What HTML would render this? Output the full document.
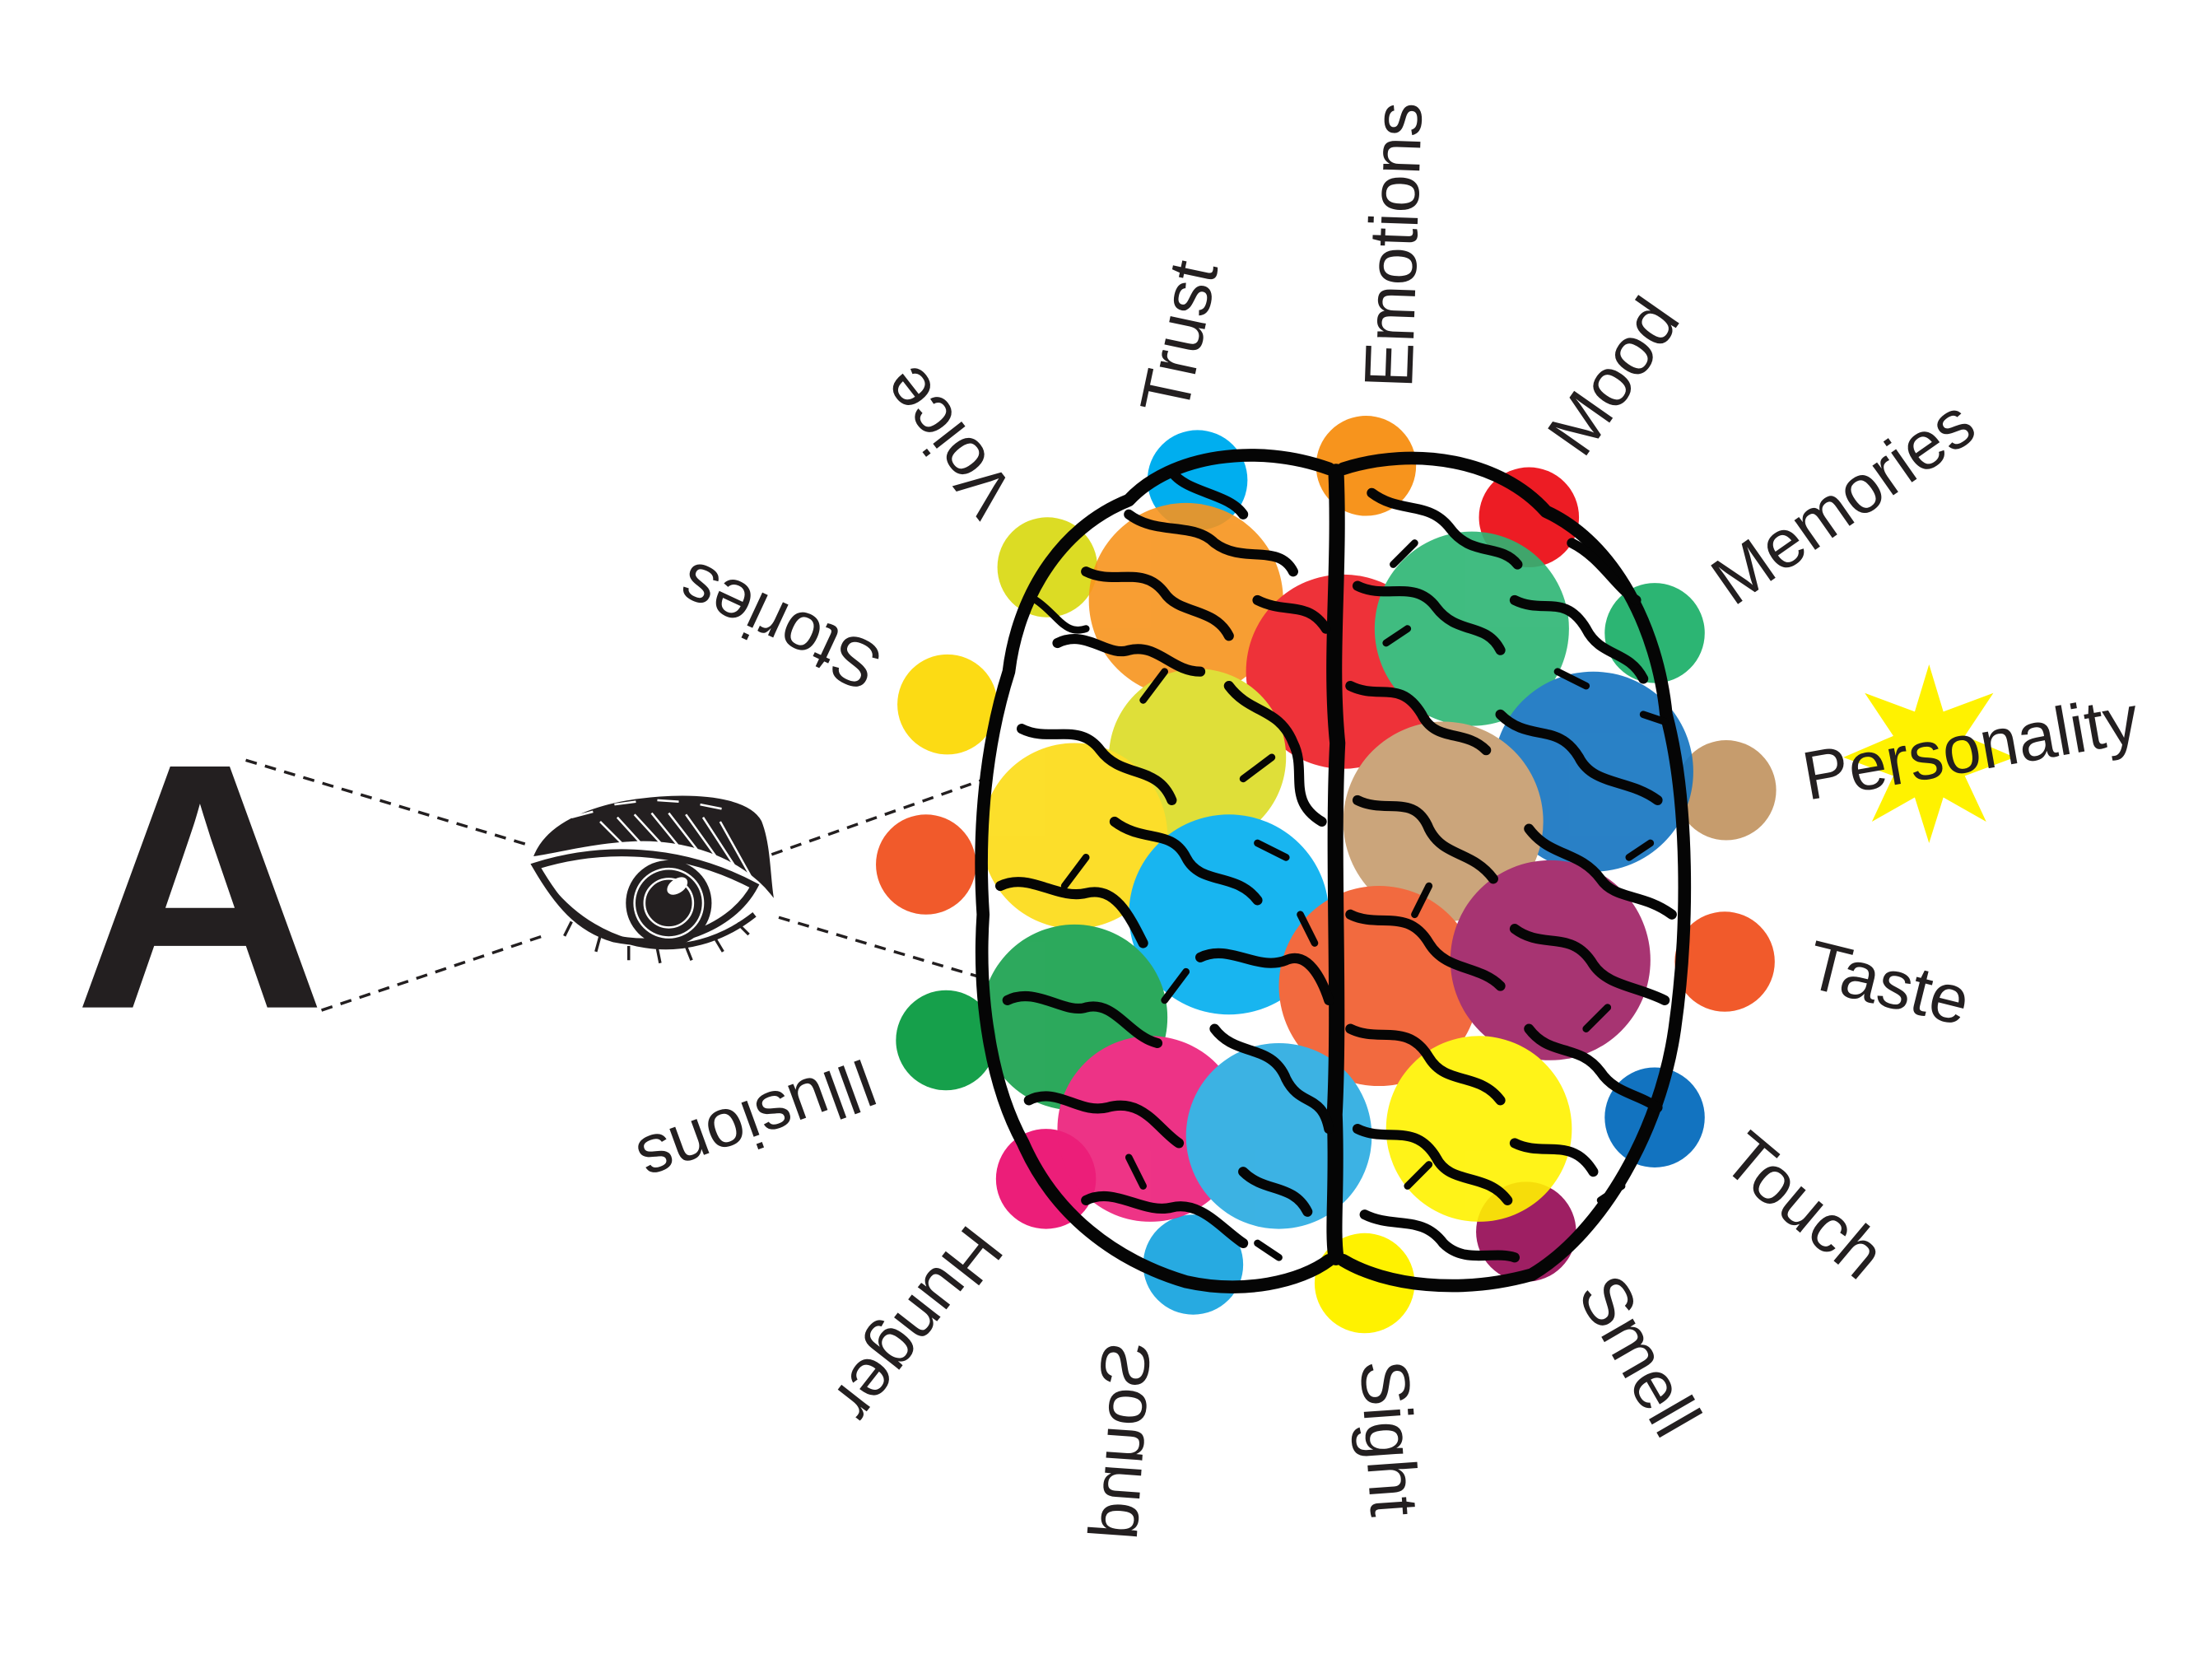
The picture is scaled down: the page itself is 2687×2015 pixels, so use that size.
<!DOCTYPE html>
<html><head><meta charset="utf-8"><style>
html,body{margin:0;padding:0;background:#fff;}
svg{display:block}
text{font-family:"Liberation Sans",sans-serif;fill:#231f20}
</style></head><body>
<svg width="2687" height="2015" viewBox="0 0 1548 1161" preserveAspectRatio="none" xmlns="http://www.w3.org/2000/svg">
<rect width="1548" height="1161" fill="#fff"/>
<!-- A and eye -->
<text x="140" y="705" font-size="245" font-weight="bold" text-anchor="middle" style="fill:#231f20">A</text>
<g stroke="#231f20" stroke-width="2" stroke-dasharray="8,6" fill="none">
<line x1="172" y1="532" x2="372" y2="592"/>
<line x1="225" y1="707" x2="380" y2="655"/>
<line x1="540" y1="598" x2="690" y2="545"/>
<line x1="545" y1="642" x2="690" y2="685"/>
</g>
<g fill="none" stroke="#231f20">
<path d="M375,598 C385,575 420,560 470,558 C500,557 525,562 532,575 C538,590 538,610 540,625 C520,600 480,585 440,588 C410,590 390,596 375,598Z" fill="#231f20" stroke-width="2"/>
<g stroke="#fff" stroke-width="1.5">
<path d="M420,575 L440,595 M432,572 L452,594 M444,570 L466,594 M456,569 L478,596 M468,569 L492,600 M480,570 L505,605 M492,572 L518,612 M504,575 L528,618"/>
<path d="M400,572 L415,568 M430,563 L445,561 M460,560 L475,561 M490,563 L505,566"/>
</g>
<path d="M375,606 C420,592 475,592 528,620 C512,650 470,665 430,657 C405,650 390,632 375,606Z" fill="#fff" stroke-width="5"/>
<circle cx="468" cy="632" r="30" fill="#231f20" stroke="none"/>
<circle cx="468" cy="632" r="24" stroke="#fff" stroke-width="1.5"/>
<circle cx="468" cy="632" r="17" stroke="#fff" stroke-width="1.5"/>
<ellipse cx="474" cy="620" rx="8" ry="5" fill="#fff" stroke="none" transform="rotate(-35 474 620)"/>
<path d="M385,622 C420,665 480,678 528,640" stroke-width="4"/>
<path d="M400,645 L395,655 M420,655 L417,666 M440,662 L440,672 M460,664 L462,674 M480,662 L484,672 M500,656 L506,666 M516,646 L524,654" stroke-width="2"/>
</g>
<!-- outer circles -->
<g>
<circle cx="838" cy="336" r="35" fill="#00aeef"/>
<circle cx="956" cy="326" r="35" fill="#f7941d"/>
<circle cx="1070" cy="362" r="35" fill="#ed1c24"/>
<circle cx="1158" cy="443" r="35" fill="#2cb573"/>
<circle cx="1208" cy="553" r="35" fill="#c69c6d"/>
<circle cx="1207" cy="673" r="35" fill="#f15a2b"/>
<circle cx="1158" cy="782" r="35" fill="#1273c0"/>
<circle cx="1068" cy="862" r="35" fill="#9e1f63"/>
<circle cx="955" cy="898" r="35" fill="#fff200"/>
<circle cx="835" cy="885" r="35" fill="#27aae1"/>
<circle cx="732" cy="825" r="35" fill="#ec1e79"/>
<circle cx="662" cy="728" r="35" fill="#16a04b"/>
<circle cx="648" cy="605" r="35" fill="#f15a2b"/>
<circle cx="663" cy="493" r="35" fill="#fcdb14"/>
<circle cx="733" cy="397" r="35" fill="#dcdc24"/>
</g>
<!-- inner circles -->
<g opacity="0.9">
<circle cx="830" cy="420" r="68" fill="#f7941d"/>
<circle cx="940" cy="470" r="68" fill="#ed1c24"/>
<circle cx="1030" cy="440" r="68" fill="#2cb573"/>
<circle cx="838" cy="530" r="62" fill="#dcdc24"/>
<circle cx="752" cy="585" r="65" fill="#fcdb14"/>
<circle cx="1115" cy="540" r="70" fill="#1273c0"/>
<circle cx="1010" cy="575" r="70" fill="#c69c6d"/>
<circle cx="860" cy="640" r="70" fill="#00aeef"/>
<circle cx="965" cy="690" r="70" fill="#f15a2b"/>
<circle cx="1085" cy="672" r="70" fill="#9e1f63"/>
<circle cx="752" cy="712" r="65" fill="#16a04b"/>
<circle cx="805" cy="790" r="65" fill="#ec1e79"/>
<circle cx="895" cy="795" r="65" fill="#27aae1"/>
<circle cx="1035" cy="790" r="65" fill="#fff200"/>
</g>
<!-- brain lines -->
<g fill="none" stroke="#050505" stroke-width="9" stroke-linecap="round" stroke-linejoin="round">
<path d="M930,328 C880,310 820,318 790,350 C740,370 712,420 706,470 C690,520 684,580 688,640 C684,700 694,760 716,800 C738,850 780,882 830,897 C870,906 910,897 930,882"/>
<path d="M940,328 C990,312 1050,322 1082,358 C1130,380 1160,440 1166,500 C1182,560 1182,650 1172,720 C1162,790 1122,862 1072,892 C1022,906 970,900 940,882"/>
<path d="M935,330 C938,400 930,460 936,520 C932,600 938,700 934,780 C936,830 932,860 935,880" stroke-width="11"/>
<g stroke-width="7">
<path d="M790,360 C810,375 835,365 850,380 C870,395 895,380 905,400"/>
<path d="M760,400 C780,410 800,395 815,415 C825,430 850,425 860,445"/>
<path d="M740,450 C760,440 775,460 790,455 C810,450 820,470 840,470"/>
<path d="M820,330 C830,345 860,345 870,360"/>
<path d="M880,420 C900,430 915,420 928,440"/>
<path d="M715,510 C735,520 755,505 770,525 C785,545 810,535 820,560"/>
<path d="M860,480 C875,500 895,495 905,520 C915,540 900,560 925,575"/>
<path d="M780,575 C800,590 820,580 830,600 C840,620 865,610 880,630"/>
<path d="M700,620 C720,610 740,630 760,625 C780,620 790,640 800,660"/>
<path d="M840,670 C860,660 880,680 900,672 C915,665 925,685 930,700"/>
<path d="M705,700 C725,690 745,710 760,705 C780,700 790,725 810,730"/>
<path d="M720,770 C740,760 755,780 775,775 C800,768 810,790 825,800"/>
<path d="M850,720 C865,740 890,730 900,755 C910,775 925,765 930,790"/>
<path d="M760,840 C780,830 800,850 820,845 C840,840 855,860 870,870"/>
<path d="M870,820 C885,835 905,828 915,848"/>
<path d="M960,345 C980,360 1000,350 1015,370 C1030,390 1050,380 1062,395"/>
<path d="M950,410 C970,420 990,405 1005,425 C1020,445 1040,435 1050,455"/>
<path d="M1060,420 C1080,430 1095,415 1110,440 C1120,460 1140,455 1150,475"/>
<path d="M945,480 C965,490 980,475 995,500 C1005,520 1025,510 1040,525"/>
<path d="M1050,500 C1070,520 1090,505 1105,530 C1115,550 1140,545 1160,560"/>
<path d="M950,560 C970,570 990,555 1000,580 C1010,600 1030,595 1045,615"/>
<path d="M1070,580 C1085,600 1105,595 1120,615 C1130,630 1150,625 1170,640"/>
<path d="M945,640 C965,650 985,635 1000,660 C1012,680 1035,675 1050,690"/>
<path d="M1060,650 C1080,665 1100,650 1115,675 C1125,690 1145,690 1165,700"/>
<path d="M945,720 C965,730 985,715 1000,740 C1012,760 1035,750 1050,770"/>
<path d="M1070,720 C1085,740 1105,730 1120,750 C1130,765 1145,765 1160,775"/>
<path d="M950,790 C970,800 990,785 1005,810 C1015,830 1040,820 1055,840"/>
<path d="M1060,800 C1080,810 1100,795 1115,820"/>
<path d="M955,850 C975,860 995,850 1010,870 C1025,885 1045,875 1060,880"/>
<path d="M1100,380 C1120,390 1130,410 1145,420"/>
</g>
<g stroke-width="5">
<path d="M725,420 C740,430 745,445 760,440"/><path d="M800,490 L815,470"/><path d="M870,545 L890,530"/>
<path d="M760,600 L745,620"/><path d="M815,700 L830,680"/><path d="M880,590 L900,600"/>
<path d="M990,380 L975,395"/><path d="M1090,470 L1110,480"/><path d="M1140,600 L1155,590"/>
<path d="M1000,620 L990,640"/><path d="M1110,720 L1125,705"/><path d="M985,830 L1000,815"/>
<path d="M790,810 L800,830"/><path d="M880,870 L895,880"/><path d="M1120,840 L1135,830"/>
<path d="M970,450 L985,440"/><path d="M910,640 L920,660"/><path d="M1150,500 L1165,505"/>
</g>
</g>
<!-- star -->
<polygon points="1350,465 1360,498 1395,485 1375,515 1410,530 1375,543 1390,575 1360,558 1350,590 1340,558 1310,575 1325,543 1290,530 1325,515 1305,485 1340,498" fill="#fff200"/>
<!-- labels -->
<g font-size="48">
<text transform="translate(830,292) rotate(-78)">Trust</text>
<text transform="translate(988,272) rotate(-88)">Emotions</text>
<text transform="translate(1108,322) rotate(-55)">Mood</text>
<text transform="translate(1213,425) rotate(-35)">Memories</text>
<text transform="translate(1265,560) rotate(-10)">Personality</text>
<text transform="translate(1262,690) rotate(14)">Taste</text>
<text transform="translate(1203,815) rotate(40)">Touch</text>
<text transform="translate(1103,905) rotate(60)">Smell</text>
<text transform="translate(952,953) rotate(86)">Sight</text>
<text transform="translate(805,940) rotate(94) scale(1,-1)">Sound</text>
<text transform="translate(678,855) rotate(128)">Hunger</text>
<text transform="translate(606,740) rotate(160)">Illusions</text>
<text transform="translate(620,455) rotate(205)">Stories</text>
<text transform="translate(712,345) rotate(232)">Voice</text>
</g>
</svg>
</body></html>
